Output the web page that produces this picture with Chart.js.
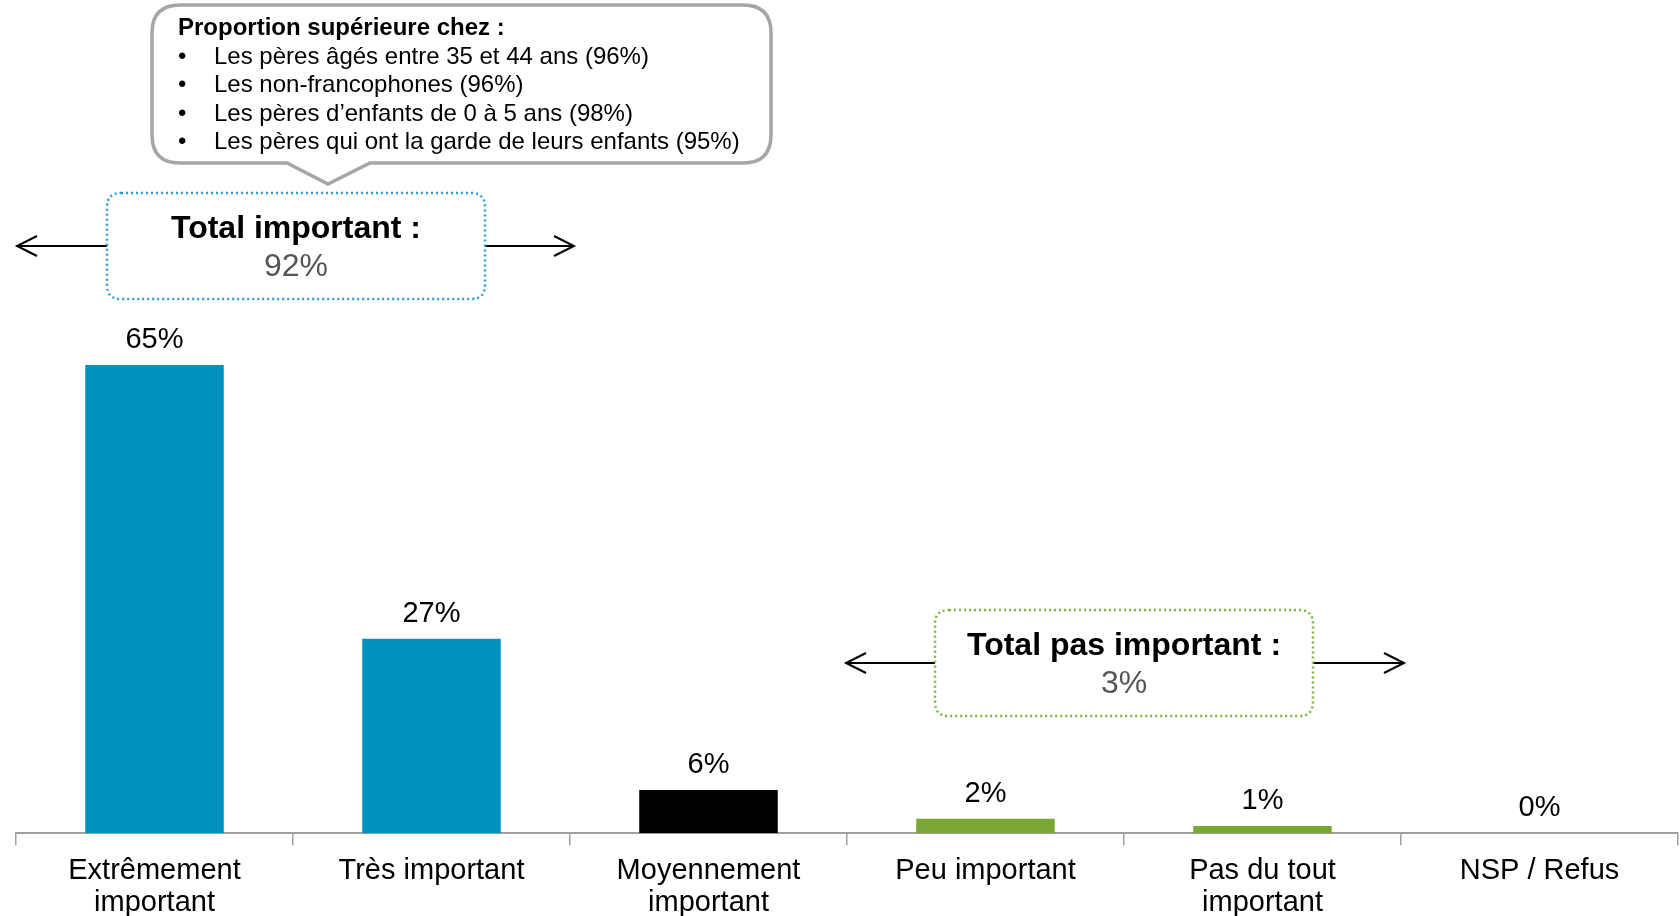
<!DOCTYPE html>
<html>
<head>
<meta charset="utf-8">
<script src="https://cdn.jsdelivr.net/npm/chart.js@4/dist/chart.umd.min.js"></script>
<style>
  html, body { margin: 0; padding: 0; background: #fff; }
  #wrap { width: 1680px; height: 916px; }
</style>
</head>
<body>
<div id="wrap"><canvas id="chart"></canvas></div>
<script>
const categories = [
  ["Extrêmement", "important"],
  "Très important",
  ["Moyennement", "important"],
  "Peu important",
  ["Pas du tout", "important"],
  "NSP / Refus"
];
const values = [65, 27, 6, 2, 1, 0];
const barColors = ["#0091c1", "#0091c1", "#000000", "#78a833", "#78a833", "#78a833"];

const calloutTitle = "Proportion supérieure chez :";
const calloutLines = [
  "Les pères âgés entre 35 et 44 ans (96%)",
  "Les non-francophones (96%)",
  "Les pères d’enfants de 0 à 5 ans (98%)",
  "Les pères qui ont la garde de leurs enfants (95%)"
];

const FONT = "'Liberation Sans', Arial, sans-serif";

function roundRect(ctx, x, y, w, h, r) {
  ctx.beginPath();
  ctx.moveTo(x + r, y);
  ctx.lineTo(x + w - r, y);
  ctx.quadraticCurveTo(x + w, y, x + w, y + r);
  ctx.lineTo(x + w, y + h - r);
  ctx.quadraticCurveTo(x + w, y + h, x + w - r, y + h);
  ctx.lineTo(x + r, y + h);
  ctx.quadraticCurveTo(x, y + h, x, y + h - r);
  ctx.lineTo(x, y + r);
  ctx.quadraticCurveTo(x, y, x + r, y);
  ctx.closePath();
}

function arrow(ctx, x1, x2, y) {
  ctx.save();
  ctx.strokeStyle = "#000";
  ctx.lineWidth = 2;
  ctx.setLineDash([]);
  ctx.beginPath();
  ctx.moveTo(x1, y);
  ctx.lineTo(x2, y);
  const d = x2 > x1 ? -1 : 1;
  ctx.moveTo(x2 + d * 20, y - 10);
  ctx.lineTo(x2, y);
  ctx.lineTo(x2 + d * 20, y + 10);
  ctx.stroke();
  ctx.restore();
}

// box centered on a category boundary, arrows out to the group's outer edges
function totalBox(ctx, cx, top, w, h, color, title, pct, leftEdge, rightEdge) {
  const x = cx - w / 2;
  const ay = top + h / 2;
  arrow(ctx, x, leftEdge, ay);
  arrow(ctx, x + w, rightEdge, ay);
  ctx.save();
  ctx.fillStyle = "#fff";
  roundRect(ctx, x, top, w, h, 14);
  ctx.fill();
  ctx.strokeStyle = color;
  ctx.lineWidth = 2.5;
  ctx.setLineDash([2, 3]);
  ctx.stroke();
  ctx.setLineDash([]);
  ctx.textAlign = "center";
  ctx.textBaseline = "middle";
  ctx.fillStyle = "#000";
  ctx.font = "bold 32px " + FONT;
  ctx.fillText(title, cx, top + 36);
  ctx.fillStyle = "#555";
  ctx.font = "32px " + FONT;
  ctx.fillText(pct, cx, top + 74);
  ctx.restore();
}

const annotations = {
  id: "annotations",
  afterDatasetsDraw(chart) {
    const ctx = chart.ctx;
    const xs = chart.scales.x;
    const meta = chart.getDatasetMeta(0);

    // value labels
    ctx.save();
    ctx.fillStyle = "#000";
    ctx.font = "29px " + FONT;
    ctx.textAlign = "center";
    ctx.textBaseline = "middle";
    meta.data.forEach((bar, i) => {
      ctx.fillText(values[i] + "%", bar.x, bar.y - 25);
    });
    ctx.restore();

    const half = (xs.getPixelForValue(1) - xs.getPixelForValue(0)) / 2;
    const edge = i => xs.getPixelForValue(i) - half;

    totalBox(ctx, edge(1) + 3, 193, 378, 106, "#2b9fd1", "Total important :", "92%", edge(0) + 1, edge(2) + 4);
    totalBox(ctx, edge(4), 610, 378, 106, "#7cb342", "Total pas important :", "3%", edge(3) - 1, edge(5) + 3);

    // callout bubble
    ctx.save();
    const bx = 152, by = 5, bw = 619, bh = 158, r = 28;
    const tipX = 328, tipY = 184, t1 = 287, t2 = 370;
    ctx.beginPath();
    ctx.moveTo(bx + r, by);
    ctx.lineTo(bx + bw - r, by);
    ctx.quadraticCurveTo(bx + bw, by, bx + bw, by + r);
    ctx.lineTo(bx + bw, by + bh - r);
    ctx.quadraticCurveTo(bx + bw, by + bh, bx + bw - r, by + bh);
    ctx.lineTo(t2, by + bh);
    ctx.lineTo(tipX, tipY);
    ctx.lineTo(t1, by + bh);
    ctx.lineTo(bx + r, by + bh);
    ctx.quadraticCurveTo(bx, by + bh, bx, by + bh - r);
    ctx.lineTo(bx, by + r);
    ctx.quadraticCurveTo(bx, by, bx + r, by);
    ctx.closePath();
    ctx.fillStyle = "#fff";
    ctx.fill();
    ctx.strokeStyle = "#a6a6a6";
    ctx.lineWidth = 3.5;
    ctx.stroke();

    ctx.fillStyle = "#000";
    ctx.textBaseline = "middle";
    ctx.textAlign = "left";
    ctx.font = "bold 24px " + FONT;
    ctx.fillText(calloutTitle, 178, 28);
    ctx.font = "24px " + FONT;
    calloutLines.forEach((line, i) => {
      const y = 57 + i * 28.6;
      ctx.fillText("•", 178, y);
      ctx.fillText(line, 214, y);
    });
    ctx.restore();
  }
};

new Chart(document.getElementById("chart"), {
  type: "bar",
  data: {
    labels: categories,
    datasets: [{
      data: values,
      backgroundColor: barColors,
      categoryPercentage: 1,
      barPercentage: 0.5
    }]
  },
  options: {
    responsive: true,
    maintainAspectRatio: false,
    animation: false,
    layout: { padding: { left: 16, right: 2, top: 113, bottom: -13 } },
    plugins: { legend: { display: false }, tooltip: { enabled: false } },
    scales: {
      y: { display: false, min: 0, max: 100 },
      x: {
        offset: true,
        grid: {
          offset: true,
          drawOnChartArea: false,
          color: "#a0a0a0",
          tickLength: 12,
          lineWidth: 1.5
        },
        border: { color: "#a0a0a0", width: 2 },
        ticks: {
          color: "#000",
          padding: 10,
          maxRotation: 0,
          autoSkip: false,
          font: { family: FONT, size: 29, lineHeight: 1.1 }
        }
      }
    }
  },
  plugins: [annotations]
});
</script>
</body>
</html>
